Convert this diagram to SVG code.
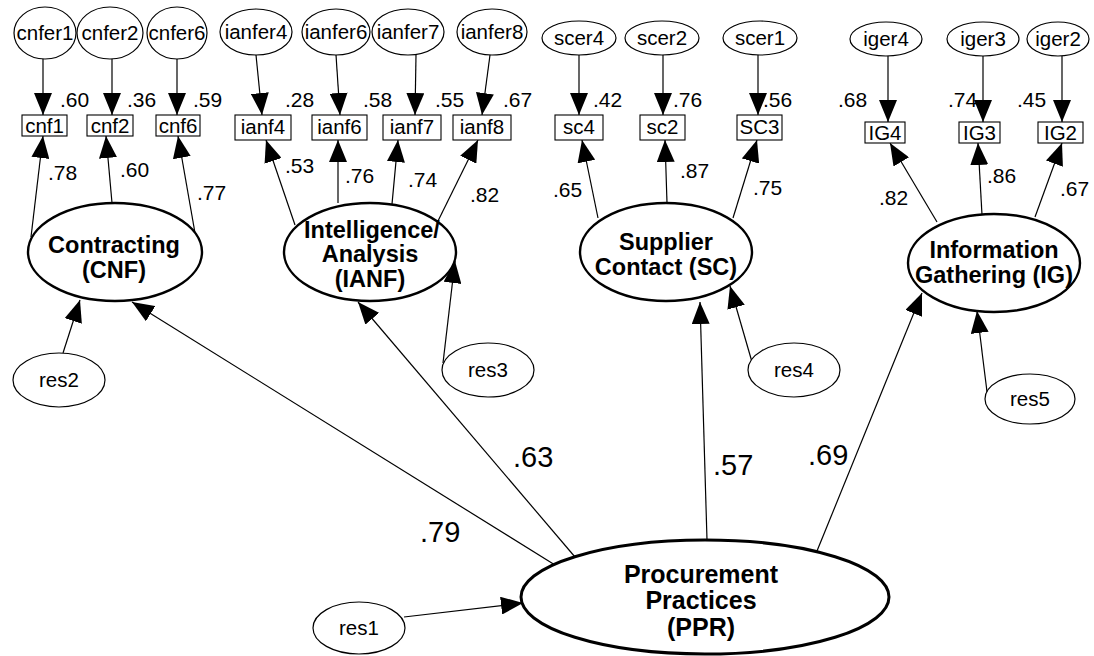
<svg xmlns="http://www.w3.org/2000/svg" width="1094" height="656" viewBox="0 0 1094 656">
<style>
.bg{fill:#fff}
.err{fill:#fff;stroke:#000;stroke-width:1.2}
.lat{fill:#fff;stroke:#000;stroke-width:2.4}
.ppr{fill:#fff;stroke:#000;stroke-width:3}
.box{fill:#fff;stroke:#000;stroke-width:1.1}
.t{font-family:"Liberation Sans",Arial,sans-serif;font-size:20.5px;fill:#000;text-anchor:middle}
.n{font-family:"Liberation Sans",Arial,sans-serif;font-size:21px;fill:#000}
.big{font-family:"Liberation Sans",Arial,sans-serif;font-size:29px;fill:#000}
.b{font-family:"Liberation Sans",Arial,sans-serif;font-size:23.5px;font-weight:bold;fill:#000;text-anchor:middle}
.bp{font-size:25px}
.c line{stroke:#000;stroke-width:1.2;marker-end:url(#ah)}
</style>
<defs>
<marker id="ah" markerUnits="userSpaceOnUse" markerWidth="22" markerHeight="18" refX="22" refY="9" orient="auto">
<path d="M0,0 L22,9 L0,18 z" fill="#000"/>
</marker>
</defs>
<rect class="bg" x="0" y="0" width="1094" height="656"/>

<g id="connectors" class="c">
<!-- error -> indicator -->
<line x1="43" y1="59" x2="43" y2="115"/>
<line x1="112" y1="59" x2="112" y2="115"/>
<line x1="177" y1="59" x2="177" y2="115"/>
<line x1="256" y1="55" x2="262" y2="115"/>
<line x1="336" y1="55" x2="340" y2="115"/>
<line x1="416" y1="55" x2="415" y2="115"/>
<line x1="490" y1="55" x2="482" y2="115"/>
<line x1="579" y1="55" x2="579" y2="115"/>
<line x1="663" y1="55" x2="663" y2="115"/>
<line x1="758" y1="55" x2="758" y2="115"/>
<line x1="888" y1="56" x2="888" y2="122"/>
<line x1="983" y1="56" x2="983" y2="122"/>
<line x1="1062" y1="56" x2="1062" y2="122"/>
<!-- latent -> indicator -->
<line x1="31" y1="237" x2="43" y2="136"/>
<line x1="112" y1="203" x2="106" y2="136"/>
<line x1="195" y1="233" x2="178" y2="136"/>
<line x1="295" y1="225" x2="266" y2="140"/>
<line x1="338" y1="203" x2="338" y2="140"/>
<line x1="392" y1="204" x2="398" y2="140"/>
<line x1="437" y1="223" x2="478" y2="140"/>
<line x1="598" y1="218" x2="582" y2="140"/>
<line x1="667" y1="203" x2="665" y2="140"/>
<line x1="733" y1="218" x2="757" y2="140"/>
<line x1="937" y1="222" x2="890" y2="143"/>
<line x1="982" y1="215" x2="978" y2="143"/>
<line x1="1035" y1="217" x2="1062" y2="143"/>
<!-- residuals -> latent -->
<line x1="63" y1="353" x2="80" y2="300"/>
<line x1="443" y1="363" x2="455" y2="261"/>
<line x1="752" y1="362" x2="730" y2="286"/>
<line x1="987" y1="392" x2="977" y2="311"/>
<line x1="404" y1="617" x2="523" y2="603"/>
<!-- PPR -> latent -->
<line x1="555" y1="565" x2="132" y2="302"/>
<line x1="575" y1="557" x2="358" y2="302"/>
<line x1="707" y1="540" x2="700" y2="302"/>
<line x1="817" y1="551" x2="922" y2="293"/>
</g>

<g id="cnfer1"><ellipse class="err" cx="45" cy="33" rx="31" ry="26"/><text class="t" x="45" y="40">cnfer1</text></g>
<g id="cnfer2"><ellipse class="err" cx="110" cy="33" rx="33" ry="26"/><text class="t" x="110" y="40">cnfer2</text></g>
<g id="cnfer6"><ellipse class="err" cx="177" cy="33" rx="30" ry="26"/><text class="t" x="177" y="40">cnfer6</text></g>
<g id="ianfer4"><ellipse class="err" cx="256" cy="32" rx="36" ry="23"/><text class="t" x="256" y="39">ianfer4</text></g>
<g id="ianfer6"><ellipse class="err" cx="336" cy="32" rx="34" ry="23"/><text class="t" x="336" y="39">ianfer6</text></g>
<g id="ianfer7"><ellipse class="err" cx="408" cy="32" rx="36" ry="23"/><text class="t" x="408" y="39">ianfer7</text></g>
<g id="ianfer8"><ellipse class="err" cx="492" cy="32" rx="35" ry="23"/><text class="t" x="492" y="39">ianfer8</text></g>
<g id="scer4"><ellipse class="err" cx="579" cy="38" rx="37" ry="17"/><text class="t" x="579" y="45">scer4</text></g>
<g id="scer2"><ellipse class="err" cx="662" cy="38" rx="37" ry="17"/><text class="t" x="662" y="45">scer2</text></g>
<g id="scer1"><ellipse class="err" cx="760" cy="38" rx="37" ry="17"/><text class="t" x="760" y="45">scer1</text></g>
<g id="iger4"><ellipse class="err" cx="886" cy="39" rx="36" ry="17"/><text class="t" x="886" y="46">iger4</text></g>
<g id="iger3"><ellipse class="err" cx="983" cy="39" rx="36" ry="17"/><text class="t" x="983" y="46">iger3</text></g>
<g id="iger2"><ellipse class="err" cx="1058" cy="39" rx="31" ry="17"/><text class="t" x="1058" y="46">iger2</text></g>

<g id="cnf1"><rect class="box" x="22" y="115" width="45" height="21"/><text class="t" x="44.5" y="133">cnf1</text></g>
<g id="cnf2"><rect class="box" x="87" y="115" width="46" height="21"/><text class="t" x="110" y="133">cnf2</text></g>
<g id="cnf6"><rect class="box" x="156" y="115" width="44" height="21"/><text class="t" x="178" y="133">cnf6</text></g>
<g id="ianf4"><rect class="box" x="235" y="115" width="56" height="25"/><text class="t" x="263" y="134">ianf4</text></g>
<g id="ianf6"><rect class="box" x="312" y="115" width="55" height="25"/><text class="t" x="339.5" y="134">ianf6</text></g>
<g id="ianf7"><rect class="box" x="383" y="115" width="58" height="25"/><text class="t" x="412" y="134">ianf7</text></g>
<g id="ianf8"><rect class="box" x="453" y="115" width="58" height="25"/><text class="t" x="482" y="134">ianf8</text></g>
<g id="sc4"><rect class="box" x="555" y="115" width="48" height="25"/><text class="t" x="579" y="134">sc4</text></g>
<g id="sc2"><rect class="box" x="640" y="115" width="45" height="25"/><text class="t" x="662.5" y="134">sc2</text></g>
<g id="SC3"><rect class="box" x="737" y="115" width="45" height="25"/><text class="t" x="759.5" y="134">SC3</text></g>
<g id="IG4"><rect class="box" x="865" y="122" width="40" height="21"/><text class="t" x="885" y="140">IG4</text></g>
<g id="IG3"><rect class="box" x="959" y="122" width="41" height="21"/><text class="t" x="979.5" y="140">IG3</text></g>
<g id="IG2"><rect class="box" x="1038" y="122" width="45" height="21"/><text class="t" x="1060.5" y="140">IG2</text></g>

<g id="CNF"><ellipse class="lat" cx="115" cy="252" rx="87" ry="49"/><text class="b" x="114" y="253">Contracting</text><text class="b" x="114" y="278">(CNF)</text></g>
<g id="IANF"><ellipse class="lat" cx="370" cy="252" rx="86" ry="49"/><text class="b" x="372" y="238">Intelligence/</text><text class="b" x="370" y="262">Analysis</text><text class="b" x="370" y="287">(IANF)</text></g>
<g id="SC"><ellipse class="lat" cx="666" cy="252" rx="86" ry="49"/><text class="b" x="666" y="250">Supplier</text><text class="b" x="666" y="275">Contact (SC)</text></g>
<g id="IG"><ellipse class="lat" cx="994" cy="263" rx="86" ry="49"/><text class="b" x="994" y="258">Information</text><text class="b" x="994" y="283">Gathering (IG)</text></g>
<g id="PPR"><ellipse class="ppr" cx="705" cy="597" rx="184" ry="57"/><text class="b bp" x="701" y="583">Procurement</text><text class="b bp" x="701" y="609">Practices</text><text class="b bp" x="701" y="636">(PPR)</text></g>

<g id="res2"><ellipse class="err" cx="59" cy="380" rx="46" ry="27"/><text class="t" x="59" y="387">res2</text></g>
<g id="res3"><ellipse class="err" cx="488" cy="370" rx="46" ry="27"/><text class="t" x="488" y="377">res3</text></g>
<g id="res4"><ellipse class="err" cx="794" cy="370" rx="46" ry="27"/><text class="t" x="794" y="377">res4</text></g>
<g id="res5"><ellipse class="err" cx="1030" cy="399" rx="45" ry="25"/><text class="t" x="1030" y="406">res5</text></g>
<g id="res1"><ellipse class="err" cx="359" cy="628" rx="46" ry="26"/><text class="t" x="359" y="635">res1</text></g>

<g id="labels">
<text class="n" x="60" y="107">.60</text>
<text class="n" x="127" y="107">.36</text>
<text class="n" x="193" y="107">.59</text>
<text class="n" x="285" y="107">.28</text>
<text class="n" x="363" y="107">.58</text>
<text class="n" x="435" y="107">.55</text>
<text class="n" x="503" y="107">.67</text>
<text class="n" x="593" y="107">.42</text>
<text class="n" x="673" y="107">.76</text>
<text class="n" x="763" y="107">.56</text>
<text class="n" x="838" y="107">.68</text>
<text class="n" x="948" y="107">.74</text>
<text class="n" x="1017" y="107">.45</text>
<text class="n" x="48" y="180">.78</text>
<text class="n" x="120" y="177">.60</text>
<text class="n" x="197" y="200">.77</text>
<text class="n" x="285" y="173">.53</text>
<text class="n" x="345" y="183">.76</text>
<text class="n" x="408" y="187">.74</text>
<text class="n" x="470" y="202">.82</text>
<text class="n" x="553" y="197">.65</text>
<text class="n" x="680" y="178">.87</text>
<text class="n" x="753" y="195">.75</text>
<text class="n" x="879" y="205">.82</text>
<text class="n" x="987" y="183">.86</text>
<text class="n" x="1060" y="196">.67</text>
<text class="big" x="420" y="542">.79</text>
<text class="big" x="513" y="467">.63</text>
<text class="big" x="713" y="475">.57</text>
<text class="big" x="808" y="465">.69</text>
</g>
</svg>
